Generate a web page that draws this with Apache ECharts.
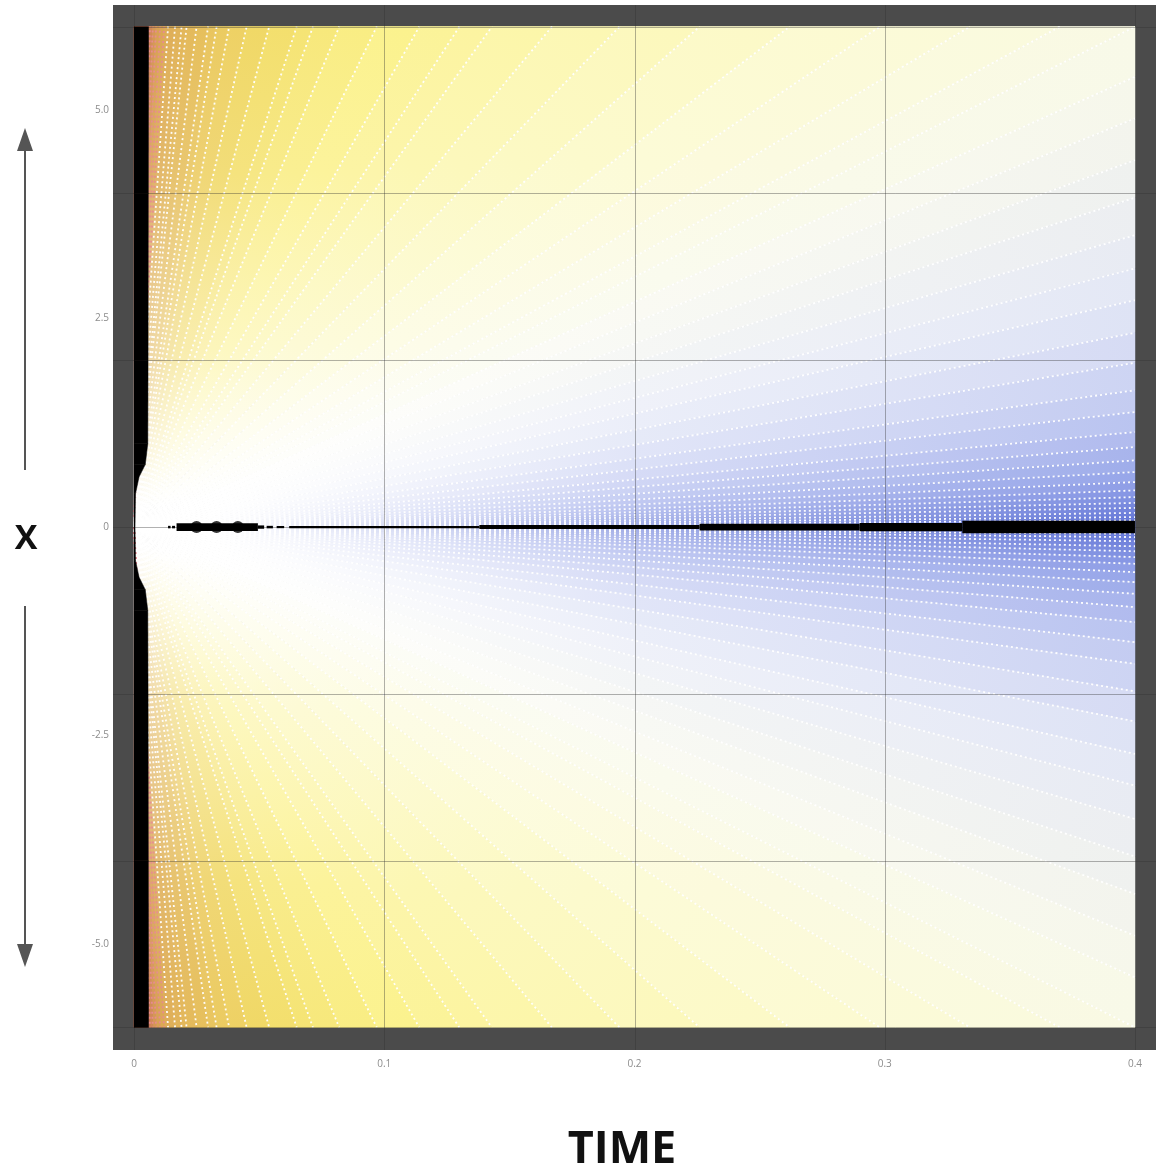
<!DOCTYPE html>
<html><head><meta charset="utf-8">
<script src="https://cdn.jsdelivr.net/npm/echarts@6/dist/echarts.min.js"></script>
<style>html,body{margin:0;padding:0;background:#fff}#c{width:1156px;height:1171px}</style>
</head><body><div id="c"></div>
<script>
// ---------- data ----------
const xTickValues = [0, 0.1, 0.2, 0.3, 0.4];
const xTickLabels = ['0', '0.1', '0.2', '0.3', '0.4'];
const yTickValues = [-5, -2.5, 0, 2.5, 5];
const yTickLabels = ['-5.0', '-2.5', '0', '2.5', '5.0'];
const gridTimes = [0, 0.1, 0.2, 0.3, 0.4];
const gridXs = [-6, -4, -2, 0, 2, 4, 6];

// rays from the origin: where they meet the top edge (x = 6), by time, and their tone
const topRayT    = [0, 0.0056, 0.0064, 0.0075, 0.0088, 0.0104, 0.012, 0.0136, 0.0164, 0.019, 0.021, 0.025, 0.0296, 0.033, 0.038, 0.045, 0.054, 0.065, 0.0715, 0.082, 0.097, 0.114, 0.13, 0.143, 0.167, 0.194, 0.226, 0.262, 0.298, 0.334, 0.37, 0.4];
const topRayTone = [1.15, 1.15, 1.1, 1.06, 1.02, 0.99, 0.96, 0.94, 0.92, 0.9, 0.88, 0.86, 0.83, 0.8, 0.77, 0.74, 0.7, 0.66, 0.63, 0.6, 0.56, 0.51, 0.47, 0.44, 0.39, 0.34, 0.29, 0.23, 0.18, 0.13, 0.08, 0.04];
// rays meeting the right edge (t = 0.4), by x, and their tone
const sideRayX    = [5.4, 4.9, 4.4, 3.95, 3.5, 3.1, 2.72, 2.33, 1.97, 1.64, 1.38, 1.14, 0.96, 0.8, 0.66, 0.54, 0.44, 0.36, 0.29, 0.23, 0.17, 0.12, 0.08, 0.04, 0];
const sideRayTone = [0.0, -0.04, -0.08, -0.12, -0.16, -0.2, -0.25, -0.3, -0.36, -0.42, -0.48, -0.54, -0.6, -0.65, -0.7, -0.75, -0.8, -0.84, -0.88, -0.92, -0.95, -0.98, -1.0, -1.0, -1.0];

// black band along t = 0: half-height x and its width in time
const bandX = [6, 4, 2, 1, 0.75, 0.6, 0.4, 0];
const bandW = [0.0058, 0.0057, 0.0056, 0.0055, 0.0045, 0.002, 0.0006, 0.0004];

// black core along x = 0: start time, end time, half thickness (x units)
const coreT0   = [0.0136, 0.0152, 0.017, 0.0495, 0.053, 0.057, 0.062, 0.138, 0.226, 0.29, 0.331];
const coreT1   = [0.0146, 0.0164, 0.0495, 0.052, 0.0555, 0.060, 0.138, 0.226, 0.29, 0.331, 0.4];
const coreHalf = [0.015, 0.015, 0.046, 0.02, 0.015, 0.013, 0.014, 0.024, 0.04, 0.05, 0.075];
const blobT = [0.025, 0.033, 0.0415];

// ---------- styling ----------
const X_MIN = -0.0084, X_MAX = 0.4084, Y_MIN = -6.27, Y_MAX = 6.26;
const toneStops = [
  [-1.0, '#6678d8'], [-0.75, '#93a2e8'], [-0.5, '#bcc5f0'], [-0.25, '#e2e6f6'],
  [0, '#f8f9ea'], [0.2, '#fcfad2'], [0.4, '#fcf6ac'], [0.55, '#fbf18a'],
  [0.7, '#f2dc68'], [0.85, '#e6be5c'], [1.0, '#d9a254'], [1.15, '#c97456']
];
function hex2rgb(h){return [parseInt(h.slice(1,3),16),parseInt(h.slice(3,5),16),parseInt(h.slice(5,7),16)];}
function rgb2str(c){return 'rgb('+c.map(v=>Math.round(v)).join(',')+')';}
function mix(a,b,f){return a.map((v,i)=>v+(b[i]-v)*f);}
function toneColor(t){
  if (t <= toneStops[0][0]) return hex2rgb(toneStops[0][1]);
  for (let i=1;i<toneStops.length;i++){
    if (t <= toneStops[i][0]){
      const f=(t-toneStops[i-1][0])/(toneStops[i][0]-toneStops[i-1][0]);
      return mix(hex2rgb(toneStops[i-1][1]),hex2rgb(toneStops[i][1]),f);
    }
  }
  return hex2rgb(toneStops[toneStops.length-1][1]);
}

// boundary points, clockwise from top-left, then mirrored for the lower half
const upper = topRayT.map((t,i)=>[t, 6, topRayTone[i]])
  .concat(sideRayX.map((x,i)=>[0.4, x, sideRayTone[i]]));
const lower = upper.slice(0, upper.length-1).reverse().map(p=>[p[0], -p[1], p[2]]);
const boundary = upper.concat(lower);
const wedgeData = [];
for (let i=0;i<boundary.length-1;i++){
  const a=boundary[i], b=boundary[i+1];
  wedgeData.push([a[0],a[1],b[0],b[1],a[2],b[2]]);
}
const rayData = boundary.filter(p=>p[0]>0).map(p=>[p[0],p[1]]);

const bandData = [];
for (let i=0;i<bandX.length-1;i++){
  bandData.push([bandX[i], bandW[i], bandX[i+1], bandW[i+1]]);
  bandData.push([-bandX[i], bandW[i], -bandX[i+1], bandW[i+1]]);
}
const coreData = coreT0.map((t,i)=>[t, coreT1[i], coreHalf[i]]);

const WHITE=[255,255,255];
const chart = echarts.init(document.getElementById('c'));
chart.setOption({
  animation: false,
  backgroundColor: '#ffffff',
  grid: {left:113, right:0, top:5, bottom:121, show:true, backgroundColor:'#4b4b4b', borderWidth:0},
  xAxis: {type:'value', min:X_MIN, max:X_MAX,
    axisLine:{show:false}, axisTick:{show:false}, splitLine:{show:false},
    axisLabel:{customValues:xTickValues, margin:9, color:'#8c8c8c', fontSize:10, fontFamily:'Open Sans',
      formatter:v=>{const i=xTickValues.findIndex(u=>Math.abs(u-v)<1e-9);return i>=0?xTickLabels[i]:'';}}},
  yAxis: {type:'value', min:Y_MIN, max:Y_MAX,
    axisLine:{show:false}, axisTick:{show:false}, splitLine:{show:false},
    axisLabel:{customValues:yTickValues, margin:4, color:'#8c8c8c', fontSize:10, fontFamily:'Open Sans',
      formatter:v=>{const i=yTickValues.findIndex(u=>Math.abs(u-v)<1e-9);return i>=0?yTickLabels[i]:'';}}},
  graphic: [
    {type:'text', style:{text:'TIME', x:622, y:1150, align:'center', verticalAlign:'middle', font:'bold 45px "Open Sans"', fill:'#111'}},
    {type:'text', style:{text:'X', x:26, y:539, align:'center', verticalAlign:'middle', font:'bold 34px "Open Sans"', fill:'#111'}},
    {type:'line', shape:{x1:25,y1:470,x2:25,y2:148}, style:{stroke:'#555',lineWidth:2}},
    {type:'polygon', shape:{points:[[25,128],[17,151],[33,151]]}, style:{fill:'#555'}},
    {type:'line', shape:{x1:25,y1:606,x2:25,y2:946}, style:{stroke:'#555',lineWidth:2}},
    {type:'polygon', shape:{points:[[25,967],[17,944],[33,944]]}, style:{fill:'#555'}}
  ],
  series: [
    { // colour field: wedges between consecutive rays
      type:'custom', z:1, silent:true, data:wedgeData,
      renderItem:(params, api)=>{
        const o=api.coord([0,0]);
        const a=api.coord([api.value(0),api.value(1)]);
        const b=api.coord([api.value(2),api.value(3)]);
        const tone=(api.value(4)+api.value(5))/2;
        const C=toneColor(tone);
        const r=Math.max(Math.hypot(a[0]-o[0],a[1]-o[1]),Math.hypot(b[0]-o[0],b[1]-o[1]));
        const stops = tone >= 0 ?
          [{offset:0,color:'#ffffff'},{offset:0.04,color:'#ffffff'},
           {offset:0.35,color:rgb2str(mix(WHITE,C,0.55))},{offset:0.7,color:rgb2str(mix(WHITE,C,0.88))},{offset:1,color:rgb2str(C)}] :
          [{offset:0,color:'#ffffff'},{offset:0.08,color:'#ffffff'},
           {offset:0.5,color:rgb2str(mix(WHITE,C,0.6))},{offset:1,color:rgb2str(C)}];
        const grad={type:'radial', x:o[0], y:o[1], r:r, global:true, colorStops:stops};
        return {type:'polygon', shape:{points:[o,a,b]}, style:{fill:grad, stroke:grad, lineWidth:1}};
      }
    },
    { // dotted rays
      type:'custom', z:2, silent:true, data:rayData,
      renderItem:(params, api)=>{
        const o=api.coord([0,0]);
        const a=api.coord([api.value(0),api.value(1)]);
        const red = api.value(0) < 0.0125;
        return {type:'line', shape:{x1:o[0],y1:o[1],x2:a[0],y2:a[1]},
          style:{stroke: red ? '#e88a92' : '#ffffff', lineWidth:1.8, lineDash:[2,3], opacity:0.95}};
      }
    },
    { // horizontal grid lines
      type:'custom', z:3, silent:true, data:gridXs.map(v=>[v]),
      renderItem:(params, api)=>{
        const a=api.coord([X_MIN,api.value(0)]), b=api.coord([X_MAX,api.value(0)]);
        return {type:'line', shape:{x1:a[0],y1:Math.round(a[1])+0.5,x2:b[0],y2:Math.round(b[1])+0.5},
          style:{stroke:'rgba(50,50,50,0.38)', lineWidth:1}};
      }
    },
    { // vertical grid lines
      type:'custom', z:3, silent:true, data:gridTimes.map(v=>[v]),
      renderItem:(params, api)=>{
        const a=api.coord([api.value(0),Y_MIN]), b=api.coord([api.value(0),Y_MAX]);
        return {type:'line', shape:{x1:Math.round(a[0])+0.5,y1:a[1],x2:Math.round(b[0])+0.5,y2:b[1]},
          style:{stroke:'rgba(50,50,50,0.38)', lineWidth:1}};
      }
    },
    { // black band at t ~ 0
      type:'custom', z:4, silent:true, data:bandData,
      renderItem:(params, api)=>{
        const p=[api.coord([0,api.value(0)]), api.coord([api.value(1),api.value(0)]),
                 api.coord([api.value(3),api.value(2)]), api.coord([0,api.value(2)])];
        return {type:'polygon', shape:{points:p}, style:{fill:'#000', stroke:'#000', lineWidth:0.5}};
      }
    },
    { // black core along x = 0
      type:'custom', z:5, silent:true, data:coreData,
      renderItem:(params, api)=>{
        const a=api.coord([api.value(0),api.value(2)]), b=api.coord([api.value(1),-api.value(2)]);
        return {type:'rect', shape:{x:a[0],y:a[1],width:b[0]-a[0],height:b[1]-a[1]}, style:{fill:'#000'}};
      }
    },
    { type:'scatter', z:6, silent:true, symbol:'circle', symbolSize:12,
      itemStyle:{color:'#000'}, data: blobT.map(t=>[t,0]) }
  ]
});
</script></body></html>
